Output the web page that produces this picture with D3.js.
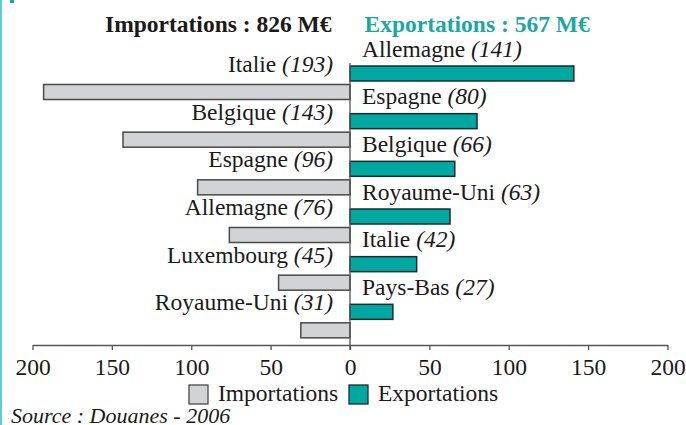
<!DOCTYPE html>
<html>
<head>
<meta charset="utf-8">
<script src="https://cdn.jsdelivr.net/npm/d3@7"></script>
</head>
<body style="margin:0">
<svg id="chart" width="686" height="425"></svg>
<script>
// Échanges par pays partenaire (M€), classés par ordre décroissant
const importCountries = ["Italie", "Belgique", "Espagne", "Allemagne", "Luxembourg", "Royaume-Uni"];
const importValues    = [193, 143, 96, 76, 45, 31];
const exportCountries = ["Allemagne", "Espagne", "Belgique", "Royaume-Uni", "Italie", "Pays-Bas"];
const exportValues    = [141, 80, 66, 63, 42, 27];
const tickValues      = [-200, -150, -100, -50, 0, 50, 100, 150, 200];
const importTotal = 826;
const exportTotal = 567;

const GREY_FILL = "#d2d3d5", GREY_STROKE = "#4a4a4a";
const TEAL_FILL = "#00a8a2", TEAL_STROKE = "#1c2b2b", TEAL_TEXT = "#1aa9a1";
const FONT = '"Times New Roman", Tinos, "Liberation Serif", FreeSerif, "Nimbus Roman", serif';
const FS = 23.5;

const svg = d3.select("#chart").style("font-family", FONT);

// decorative edge
svg.append("rect").attr("x", 0).attr("y", 0).attr("width", 2).attr("height", 425).attr("fill", "#5fd0d2");
svg.append("rect").attr("x", 10).attr("y", 0).attr("width", 4).attr("height", 3).attr("fill", "#16a9a4");

const x = d3.scaleLinear().domain([-200, 200]).range([32.5, 667.5]);
const rows = d3.scaleBand().domain(d3.range(6)).range([59, 345]).paddingInner(0);
const barH = 15;
const expOffset = 7, impOffset = 25.5;

const imports = importCountries.map((c, i) => ({ c, v: importValues[i], i }));
const exports = exportCountries.map((c, i) => ({ c, v: exportValues[i], i }));

function txt(sel) {
  return sel.style("font-family", FONT).attr("font-size", FS).attr("fill", "#1a1a1a");
}

// titles
txt(svg.append("text")).attr("x", 331.5).attr("y", 32).attr("text-anchor", "end")
  .attr("font-weight", "bold")
  .text(`Importations : ${importTotal} M€`);
txt(svg.append("text")).attr("x", 364.5).attr("y", 32)
  .attr("font-weight", "bold").attr("fill", TEAL_TEXT)
  .text(`Exportations : ${exportTotal} M€`);

// import bars (to the left of zero)
svg.append("g").selectAll("rect").data(imports).join("rect")
  .attr("x", d => x(-d.v))
  .attr("y", d => rows(d.i) + impOffset)
  .attr("width", d => x(0) - x(-d.v))
  .attr("height", barH)
  .attr("fill", GREY_FILL).attr("stroke", GREY_STROKE).attr("stroke-width", 1.5);

// export bars (to the right of zero)
svg.append("g").selectAll("rect").data(exports).join("rect")
  .attr("x", x(0))
  .attr("y", d => rows(d.i) + expOffset)
  .attr("width", d => x(d.v) - x(0))
  .attr("height", barH)
  .attr("fill", TEAL_FILL).attr("stroke", TEAL_STROKE).attr("stroke-width", 1.5);

// labels
const impLab = txt(svg.append("g").selectAll("text").data(imports).join("text"))
  .attr("x", 333).attr("y", d => rows(d.i) + impOffset - 12.5)
  .attr("text-anchor", "end");
impLab.append("tspan").text(d => d.c + " ");
impLab.append("tspan").attr("font-style", "italic").text(d => `(${d.v})`);

const expLab = txt(svg.append("g").selectAll("text").data(exports).join("text"))
  .attr("x", 362).attr("y", d => rows(d.i) + expOffset - 9.5);
expLab.append("tspan").text(d => d.c + " ");
expLab.append("tspan").attr("font-style", "italic").text(d => `(${d.v})`);

// zero line
svg.append("line").attr("x1", x(0)).attr("x2", x(0)).attr("y1", 63).attr("y2", 350)
  .attr("stroke", "#555").attr("stroke-width", 1.3);

// horizontal axis
const axis = d3.axisBottom(x).tickValues(tickValues).tickSize(5).tickSizeOuter(0)
  .tickFormat(d => Math.abs(d));
const ax = svg.append("g").attr("transform", "translate(0,345)").call(axis);
ax.attr("font-family", null).attr("font-size", null);
ax.select(".domain").attr("stroke", "#555").attr("stroke-width", 1.3);
ax.selectAll(".tick line").attr("stroke", "#555").attr("stroke-width", 1.3);
txt(ax.selectAll(".tick text")).attr("dy", 0).attr("y", 30);

// legend
const legend = [
  { label: "Importations", fill: GREY_FILL, stroke: GREY_STROKE, x: 189 },
  { label: "Exportations", fill: TEAL_FILL, stroke: TEAL_STROKE, x: 349 }
];
const lg = svg.append("g").selectAll("g").data(legend).join("g")
  .attr("transform", d => `translate(${d.x},385)`);
lg.append("rect").attr("width", 19).attr("height", 19)
  .attr("fill", d => d.fill).attr("stroke", d => d.stroke).attr("stroke-width", 1.3);
txt(lg.append("text")).attr("x", 29).attr("y", 16).text(d => d.label);

// source
txt(svg.append("text")).attr("x", 11).attr("y", 423).attr("font-size", 22)
  .attr("font-style", "italic")
  .text("Source : Douanes - 2006");
</script>
</body>
</html>
